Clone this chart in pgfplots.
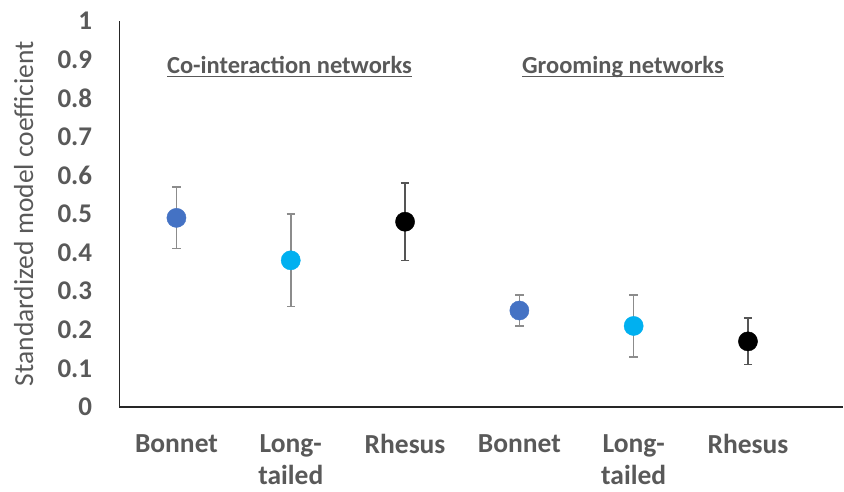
\documentclass[border=0pt]{standalone}
\usepackage{pgfplots}
\pgfplotsset{compat=1.18}
\usepackage{fontspec}
\setmainfont{Carlito}
\definecolor{txt}{HTML}{595959}
\definecolor{blueA}{HTML}{4472C4}
\definecolor{blueB}{HTML}{00B0F0}
\definecolor{errg}{HTML}{8C8C8C}
\definecolor{errd}{HTML}{555555}
\newcommand\ulx[1]{\setbox0\hbox{#1}\rlap{\color{txt}\rule[-3.2pt]{\wd0}{1.3pt}}\box0}
\begin{document}
\begin{tikzpicture}[x=1pt,y=1pt]
\useasboundingbox (0,0) rectangle (844,491);
\node[rotate=90, anchor=base, text=txt, inner sep=0pt, font=\fontsize{27.5}{30}\selectfont] at (33,277.5) {Standardized model coefficient};
\begin{axis}[
  at={(119.3pt,84pt)}, anchor=south west,
  scale only axis, width=724pt, height=386pt,
  xmin=-0.5, xmax=5.834, ymin=0, ymax=1,
  axis x line=bottom, axis y line=left,
  axis line style={-, line width=1.4pt, color=black!85},
  major tick length=0pt,
  xtick={0,1,2,3,4,5},
  xticklabels={Bonnet,{Long-\\tailed},Rhesus,Bonnet,{Long-\\tailed},Rhesus},
  xticklabel style={align=center, anchor=north, inner sep=0pt, yshift=-27pt, text=txt, font=\fontsize{27.5}{32.5}\selectfont\bfseries},
  ytick={0,0.1,0.2,0.3,0.4,0.5,0.6,0.7,0.8,0.9,1},
  yticklabels={0,0.1,0.2,0.3,0.4,0.5,0.6,0.7,0.8,0.9,1},
  yticklabel style={anchor=east, inner sep=0pt, xshift=-27pt, text=txt, font=\fontsize{27}{30}\selectfont\bfseries},
  clip=false,
]
\addplot[only marks, mark=*, mark size=9.6pt, mark options={fill=blueA, draw=blueA},
  error bars/.cd, y dir=both, y explicit,
  error bar style={errg, line width=1.6pt},
  error mark options={errg, rotate=90, mark size=4.2pt, line width=1.5pt}]
  table[x=x, y=y, y error plus=ep, y error minus=em] {
x y ep em
0 0.49 0.08 0.08
3 0.25 0.04 0.04
};
\addplot[only marks, mark=*, mark size=9.6pt, mark options={fill=blueB, draw=blueB},
  error bars/.cd, y dir=both, y explicit,
  error bar style={errg, line width=1.6pt},
  error mark options={errg, rotate=90, mark size=4.2pt, line width=1.5pt}]
  table[x=x, y=y, y error plus=ep, y error minus=em] {
x y ep em
1 0.38 0.12 0.12
4 0.21 0.08 0.08
};
\addplot[only marks, mark=*, mark size=9.6pt, mark options={fill=black, draw=black},
  error bars/.cd, y dir=both, y explicit,
  error bar style={errd, line width=1.6pt},
  error mark options={errd, rotate=90, mark size=4.2pt, line width=1.5pt}]
  table[x=x, y=y, y error plus=ep, y error minus=em] {
x y ep em
2 0.48 0.10 0.10
5 0.17 0.06 0.06
};
\node[anchor=base, text=txt, inner sep=0pt, font=\fontsize{24.5}{28}\selectfont\bfseries] at (axis cs:0.989,0.8627) {\ulx{Co-interaction networks}};
\node[anchor=base, text=txt, inner sep=0pt, font=\fontsize{24.5}{28}\selectfont\bfseries] at (axis cs:3.906,0.8627) {\ulx{Grooming networks}};
\end{axis}
\end{tikzpicture}
\end{document}
